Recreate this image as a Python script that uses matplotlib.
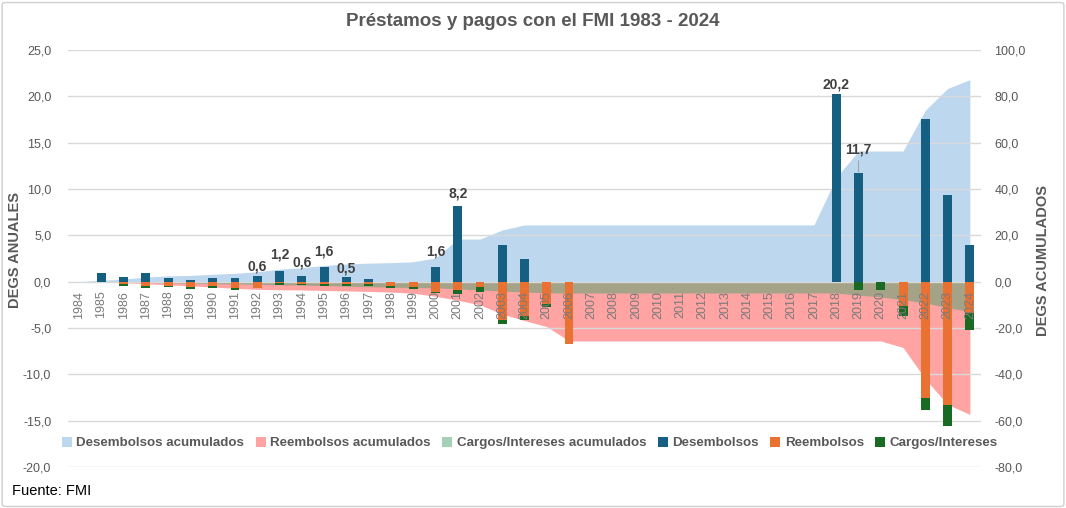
import matplotlib
matplotlib.use("Agg")
import matplotlib.pyplot as plt
from matplotlib.patches import Patch, FancyBboxPatch

# datos anuales (DEGs, eje izquierdo)
years = list(range(1984, 2025))
desembolsos = [0, 0.9, 0.5, 0.95, 0.4, 0.15, 0.35, 0.35, 0.6, 1.2, 0.6, 1.6, 0.5, 0.3, 0, 0, 1.6, 8.2, 0, 4.0, 2.4,
               0, 0, 0, 0, 0, 0, 0, 0, 0, 0, 0, 0, 0,
               20.2, 11.7, 0, 0, 17.5, 9.4, 4.0]
reembolsos = [0, 0, -0.25, -0.52, -0.42, -0.6, -0.5, -0.72, -0.65, -0.15, -0.2, -0.22, -0.27, -0.2, -0.5, -0.55,
              -1.15, -0.86, -0.58, -4.1, -3.67, -2.37, -6.7,
              0, 0, 0, 0, 0, 0, 0, 0, 0, 0, 0, 0, 0, 0,
              -2.66, -12.55, -13.35, -3.38]
cargos = [0, 0, -0.18, -0.15, -0.15, -0.15, -0.22, -0.18, -0.07, -0.25, -0.12, -0.2, -0.2, -0.32, -0.15, -0.2,
          -0.1, -0.43, -0.5, -0.47, -0.43, -0.36, -0.07,
          0, 0, 0, 0, 0, 0, 0, 0, 0, 0, 0, 0,
          -0.86, -0.86, -1.08, -1.33, -2.27, -1.8]

# acumulados (DEGs, eje derecho)
desembolsos_acum = [0, 0.6, 1.1, 2.0, 2.5, 2.7, 3.2, 3.6, 4.3, 5.4, 6.0, 7.0, 7.6, 8.0, 8.2, 8.6, 10.2, 18.4, 18.4,
                    22.3, 24.5,
                    24.5, 24.5, 24.5, 24.5, 24.5, 24.5, 24.5, 24.5, 24.5, 24.5, 24.5, 24.5, 24.5,
                    45.0, 56.4, 56.4, 56.4, 74.0, 83.4, 87.2]
reembolsos_acum = [0, 0, -0.4, -0.9, -1.3, -1.8, -2.3, -2.9, -3.3, -3.5, -3.6, -3.8, -4.0, -4.2, -4.5, -5.0, -6.3,
                   -8.0, -10.0, -14.0, -16.8, -19.4, -25.6,
                   -25.6, -25.6, -25.6, -25.6, -25.6, -25.6, -25.6, -25.6, -25.6, -25.6, -25.6, -25.6, -25.6, -25.6,
                   -28.4, -42.0, -53.0, -57.3]
cargos_acum = [0, 0, -0.2, -0.35, -0.5, -0.65, -0.85, -1.05, -1.1, -1.35, -1.5, -1.7, -1.9, -2.2, -2.35, -2.55,
               -2.65, -3.1, -3.6, -4.05, -4.5, -4.85, -4.9,
               -4.9, -4.9, -4.9, -4.9, -4.9, -4.9, -4.9, -4.9, -4.9, -4.9, -4.9, -4.9,
               -5.8, -6.6, -7.8, -9.2, -11.2, -12.9]

left_ticks = [-20, -15, -10, -5, 0, 5, 10, 15, 20, 25]
right_ticks = [-80, -60, -40, -20, 0, 20, 40, 60, 80, 100]

# años con etiqueta y su desplazamiento vertical (pt)
etiquetas = {1992: 7, 1993: 11.5, 1994: 10, 1995: 11, 1996: 6, 2000: 11, 2001: 8.5, 2018: 7, 2019: 17}

c_des_area = '#bdd7ee'
c_ree_area = '#ffa3a3'
c_car_area = '#4ba46e'
c_des = '#156082'
c_ree = '#e97132'
c_car = '#196b24'
gris = '#595959'


def fmt(v):
    return f"{v:.1f}".replace('.', ',')


plt.rcParams['font.family'] = ['Liberation Sans', 'DejaVu Sans']

fig = plt.figure(figsize=(10.66, 5.08), dpi=100)
ax1 = fig.add_axes([68 / 1066, 41 / 508, 913 / 1066, 417 / 508])
ax2 = ax1.twinx()
ax1.set_zorder(ax2.get_zorder() + 1)
ax1.patch.set_visible(False)

# areas acumuladas
ax2.fill_between(years, 0, desembolsos_acum, color=c_des_area, lw=0)
ax2.fill_between(years, 0, reembolsos_acum, color=c_ree_area, lw=0)
ax2.fill_between(years, 0, cargos_acum, color=c_car_area, alpha=0.5, lw=0)
ax2.set_ylim(-80, 100)
ax2.set_yticks(right_ticks)
ax2.set_yticklabels([fmt(v) for v in right_ticks])
ax2.grid(axis='y', color='#d9d9d9', lw=1)
ax2.tick_params(axis='y', length=0, pad=9.5, labelsize=9, labelcolor=gris)

# barras anuales
ax1.bar(years, desembolsos, width=0.4, color=c_des)
ax1.bar(years, reembolsos, width=0.4, color=c_ree)
ax1.bar(years, cargos, width=0.4, bottom=reembolsos, color=c_car)
ax1.set_xlim(1983.5, 2024.5)
ax1.set_ylim(-20, 25)
ax1.set_yticks(left_ticks)
ax1.set_yticklabels([fmt(v) for v in left_ticks])
ax1.tick_params(axis='y', length=0, pad=12, labelsize=9, labelcolor=gris)
ax1.spines['bottom'].set_position(('data', 0))
ax1.set_xticks(years)
ax1.set_xticklabels([str(y) for y in years], rotation=90)
ax1.tick_params(axis='x', length=0, pad=6.5, labelsize=9, labelcolor='#7a7a7a')

for ax in (ax1, ax2):
    for s in ax.spines.values():
        s.set_visible(False)

for y, off in etiquetas.items():
    v = desembolsos[years.index(y)]
    kw = {}
    if y == 2019:
        kw['arrowprops'] = dict(arrowstyle='-', color='#a6a6a6', lw=0.8, shrinkA=1, shrinkB=1)
    ax1.annotate(fmt(v), (y, v), xytext=(0, off), textcoords='offset points', ha='center', va='center',
                 fontsize=10, fontweight='bold', color='#404040', **kw)

handles = [Patch(facecolor=c_des_area), Patch(facecolor=c_ree_area), Patch(facecolor=c_car_area, alpha=0.5),
           Patch(facecolor=c_des), Patch(facecolor=c_ree), Patch(facecolor=c_car)]
labels = ['Desembolsos acumulados', 'Reembolsos acumulados', 'Cargos/Intereses acumulados',
          'Desembolsos', 'Reembolsos', 'Cargos/Intereses']
fig.legend(handles, labels, loc='center', bbox_to_anchor=(0.497, 1 - 443 / 508), ncol=6, frameon=False,
           handlelength=0.75, handleheight=0.75, handletextpad=0.35, columnspacing=0.85,
           prop={'weight': 'bold', 'size': 9.6}, labelcolor=gris)

fig.text(0.5, 1 - 22 / 508, 'Préstamos y pagos con el FMI 1983 - 2024', ha='center', va='center',
         fontsize=13.5, fontweight='bold', color=gris)
fig.text(15 / 1066, 1 - 250 / 508, 'DEGS ANUALES', rotation=90, ha='center', va='center',
         fontsize=10.5, fontweight='bold', color=gris)
fig.text(1043 / 1066, 1 - 260 / 508, 'DEGS ACUMULADOS', rotation=90, ha='center', va='center',
         fontsize=10.5, fontweight='bold', color=gris)
fig.text(12 / 1066, 1 - 491 / 508, 'Fuente: FMI', ha='left', va='center', fontsize=10.5, color='black')

fig.patches.append(FancyBboxPatch((0.002, 0.003), 0.996, 0.992, boxstyle='round,pad=0,rounding_size=0.004',
                                  transform=fig.transFigure, fill=False, edgecolor='#d0d0d0', lw=1))

fig.savefig('out.png', dpi=100)
